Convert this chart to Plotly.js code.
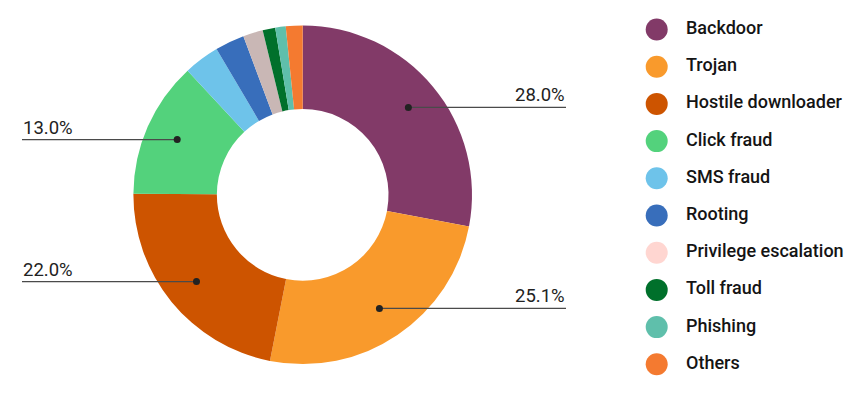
<!DOCTYPE html>
<html>
<head>
<meta charset="utf-8">
<script src="https://cdn.plot.ly/plotly-3.0.1.min.js"></script>
<style>
  html, body { margin: 0; padding: 0; background: #ffffff; }
  #chart { width: 859px; height: 395px; }
</style>
</head>
<body>
<div id="chart"></div>
<script>
// ---- data ----
const categories = ["Backdoor", "Trojan", "Hostile downloader", "Click fraud", "SMS fraud",
                    "Rooting", "Privilege escalation", "Toll fraud", "Phishing", "Others"];
const values = [28.0, 25.1, 22.0, 13.0, 3.4, 2.8, 1.9, 1.2, 1.0, 1.6];
const sliceColors = ["#823A68", "#F99A2C", "#CD5400", "#53D27C", "#6EC3EA",
                     "#386EBB", "#C9B7B5", "#00702B", "#5FBFAB", "#F47A30"];
const legendColors = ["#823A68", "#F99A2C", "#CD5400", "#53D27C", "#6EC3EA",
                      "#386EBB", "#FFD6D1", "#00702B", "#5FBFAB", "#F47A30"];
const labelMin = 10; // only slices of at least this share get a callout

// ---- layout geometry ----
const W = 859, H = 395;
const CX = 302.7, CY = 194.8, R = 169.3, HOLE = 0.507;
const DOT_R = 0.81 * R;
const LINE_RIGHT = 566, LINE_LEFT = 22;
const LEG_X = 656.7, LEG_TEXT_X = 686, LEG_Y0 = 29.5, LEG_STEP = 37.2;
const FONT = "Roboto, 'Noto Sans', Arial, sans-serif";

const px = x => x / W;
const py = y => 1 - y / H;

const total = values.reduce((a, b) => a + b, 0);

const pie = {
  type: "pie",
  labels: categories,
  values: values,
  sort: false,
  direction: "clockwise",
  rotation: 0,
  hole: HOLE,
  textinfo: "none",
  hoverinfo: "label+percent",
  marker: { colors: sliceColors, line: { width: 0 } },
  domain: { x: [px(CX - R), px(CX + R)], y: [py(CY + R), py(CY - R)] },
  showlegend: false
};

// legend built as scatter traces on hidden axes
const idx = categories.map((_, i) => i);
const legendMarkers = {
  type: "scatter", mode: "markers",
  x: categories.map(() => 0), y: idx,
  xaxis: "x", yaxis: "y",
  marker: { size: 22, color: legendColors, symbol: "circle", line: { width: 0 } },
  hoverinfo: "skip", showlegend: false, cliponaxis: false
};
const legendText = {
  type: "scatter", mode: "text",
  x: categories.map(() => 0), y: idx,
  xaxis: "x2", yaxis: "y",
  text: categories, textposition: "middle right",
  textfont: { family: FONT, size: 18, color: "#141414", weight: 500 },
  hoverinfo: "skip", showlegend: false, cliponaxis: false
};

// callouts
const shapes = [];
const annotations = [];
let cum = 0;
values.forEach((v, i) => {
  const share = v / total * 100;
  const mid = (cum + v / 2) / total * 2 * Math.PI;
  cum += v;
  if (share < labelMin) return;
  const dx = CX + DOT_R * Math.sin(mid);
  const dy = CY - DOT_R * Math.cos(mid);
  const right = Math.sin(mid) >= 0;
  const endX = right ? LINE_RIGHT : LINE_LEFT;
  shapes.push({
    type: "line", xref: "paper", yref: "paper",
    x0: px(dx), y0: py(dy), x1: px(endX), y1: py(dy),
    line: { color: "#4a4a4a", width: 1.3 }
  });
  shapes.push({
    type: "circle", xref: "paper", yref: "paper",
    x0: px(dx - 3.5), x1: px(dx + 3.5), y0: py(dy + 3.5), y1: py(dy - 3.5),
    fillcolor: "#222222", line: { width: 0 }
  });
  annotations.push({
    xref: "paper", yref: "paper",
    x: px(right ? endX + 1 : endX - 1), y: py(dy),
    xanchor: right ? "right" : "left", yanchor: "middle", yshift: 12,
    text: share.toFixed(1) + "%", showarrow: false,
    font: { family: FONT, size: 18.5, color: "#222222" }
  });
});

const hidden = { showgrid: false, zeroline: false, showticklabels: false, showline: false, fixedrange: true };

const layout = {
  width: W, height: H,
  margin: { l: 0, r: 0, t: 0, b: 0, pad: 0 },
  paper_bgcolor: "#ffffff", plot_bgcolor: "rgba(0,0,0,0)",
  showlegend: false,
  xaxis: Object.assign({ domain: [0, 1], range: [-LEG_X, W - LEG_X] }, hidden),
  xaxis2: Object.assign({ domain: [0, 1], range: [-LEG_TEXT_X, W - LEG_TEXT_X], overlaying: "x" }, hidden),
  yaxis: Object.assign({ domain: [0, 1], range: [(H - LEG_Y0) / LEG_STEP, -LEG_Y0 / LEG_STEP] }, hidden),
  shapes: shapes,
  annotations: annotations,
  font: { family: FONT }
};

Plotly.newPlot("chart", [pie, legendMarkers, legendText], layout, { displayModeBar: false, staticPlot: true });
</script>
</body>
</html>
